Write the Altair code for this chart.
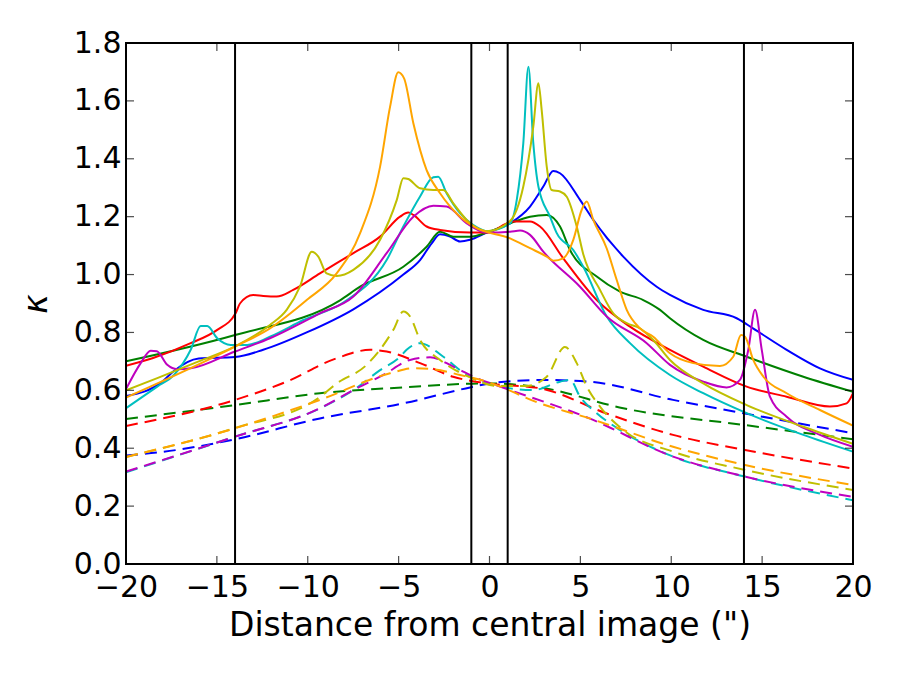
import altair as alt
import pandas as pd

# ---------------- data ----------------
blue_x = [-20, -18, -17.4, -16, -14, -12.45, -10.06, -7.49, -4.74, -3.82, -3.18, -2.72, -2.17, -1.62, -1.07, -0.15,
          1.13, 2.23, 2.96, 3.51, 3.88, 4.98, 5.71, 7.36, 9.2, 9.93, 11.76, 13.6, 14.5, 16.35, 18.18, 20]
blue_y = [0.58, 0.63, 0.665, 0.71, 0.715, 0.74, 0.80, 0.88, 1.0, 1.05, 1.108, 1.139, 1.131, 1.114, 1.12, 1.145,
          1.177, 1.235, 1.304, 1.358, 1.35, 1.258, 1.189, 1.062, 0.958, 0.93, 0.878, 0.849, 0.814, 0.74, 0.676, 0.636]

green_x = [-20, -14, -8.2, -7.12, -4.74, -3.46, -2.72, -1.99, -1.07, -0.15, 1.13, 2.23, 3.15, 3.88, 4.43, 5.9,
           7.18, 8.46, 9.38, 9.93, 11.76, 14.15, 17.27, 20]
green_y = [0.70, 0.791, 0.912, 0.958, 1.027, 1.096, 1.148, 1.131, 1.131, 1.145, 1.177, 1.2, 1.206, 1.166, 1.085, 0.993,
           0.941, 0.912, 0.878, 0.849, 0.774, 0.716, 0.647, 0.595]

red_x = [-20, -18.55, -16.44, -14.98, -13.97, -13.73, -13.0, -12.45, -11.71, -10.8, -9.33, -7.49, -6.02, -4.92, -4.47,
         -4.19, -3.46, -2.72, -1.07, -0.15, 1.31, 2.23, 2.78, 4.06, 5.9, 7.73, 9.93, 11.76, 14.15, 16.35, 18.73, 19.65, 20]
red_y = [0.685, 0.711, 0.763, 0.809, 0.866, 0.9, 0.929, 0.926, 0.924, 0.947, 1.004, 1.074, 1.131, 1.2, 1.214,
         1.206, 1.166, 1.154, 1.145, 1.145, 1.183, 1.183, 1.166, 1.056, 0.912, 0.82, 0.74, 0.682, 0.613, 0.578, 0.544, 0.555, 0.59]

cyan_x = [-20, -18.28, -17.36, -16.44, -15.89, -15.53, -14.98, -14.24, -13.33, -12.08, -10.24, -8.0, -5.66, -4.74,
          -3.82, -3.09, -2.82, -2.36, -1.62, -0.89, -0.15, 1.13, 1.5, 1.86, 2.14, 2.41, 2.69, 3.33, 3.7, 4.61, 5.16,
          6.45, 7.73, 9.93, 11.76, 14.15, 17.27, 20]
cyan_y = [0.538, 0.613, 0.653, 0.74, 0.822, 0.822, 0.78, 0.757, 0.757, 0.785, 0.843, 0.905, 1.05, 1.166,
          1.27, 1.336, 1.338, 1.281, 1.212, 1.171, 1.15, 1.177, 1.258, 1.454, 1.718, 1.454, 1.304, 1.2, 1.143, 1.085, 1.027,
          0.855, 0.763, 0.653, 0.59, 0.521, 0.446, 0.388]

magenta_x = [-20, -19.2, -18.64, -18.3, -17.73, -17.18, -16.44, -14, -12.08, -9.33, -7.49, -5.66, -4.19, -3.09, -2.36,
             -1.25, -0.15, 1.13, 1.68, 2.23, 2.96, 4.98, 6.45, 8.65, 9.93, 11.76, 13.05, 13.78, 14.24, 14.61, 14.98,
             15.43, 16.35, 18.18, 20]
magenta_y = [0.604, 0.693, 0.737, 0.735, 0.688, 0.673, 0.676, 0.734, 0.78, 0.866, 0.924, 1.074, 1.2, 1.238, 1.235,
             1.177, 1.145, 1.148, 1.152, 1.137, 1.079, 0.958, 0.855, 0.763, 0.688, 0.63, 0.61, 0.636, 0.74, 0.878, 0.74,
             0.578, 0.509, 0.446, 0.405]

yellow_x = [-20, -18.28, -16, -14, -12.08, -11.16, -10.43, -9.78, -9.42, -8.96, -8.41, -7.49, -6.02, -5.1, -4.74, -4.47,
            -3.82, -3.09, -2.54, -1.99, -1.07, -0.15, 1.13, 1.86, 2.41, 2.69, 2.87, 3.15, 3.42, 3.88, 4.25, 4.8, 5.16,
            6.08, 6.81, 7.55, 8.28, 9.01, 9.93, 11.76, 14.15, 17.27, 20]
yellow_y = [0.60, 0.642, 0.70, 0.752, 0.826, 0.878, 0.958, 1.079, 1.062, 1.004, 0.995, 1.016, 1.12, 1.258, 1.333, 1.33,
            1.298, 1.292, 1.292, 1.246, 1.177, 1.15, 1.185, 1.304, 1.511, 1.661, 1.569, 1.373, 1.292, 1.287, 1.269, 1.166, 1.07,
            0.947, 0.866, 0.832, 0.814, 0.774, 0.705, 0.624, 0.549, 0.474, 0.415]

orange_x = [-20, -14, -12.08, -10.06, -8.41, -7.12, -6.02, -5.47, -5.02, -4.7, -4.19, -3.46, -2.72, -1.62, -0.7,
            1.13, 2.23, 3.15, 3.51, 4.06, 4.61, 5.07, 5.35, 5.71, 6.45, 7.0, 7.55, 8.28, 9.01, 9.93, 11.21, 12.68,
            13.41, 13.84, 14.06, 14.51, 15.07, 16.35, 18.18, 20]
orange_y = [0.575, 0.751, 0.814, 0.912, 1.004, 1.143, 1.373, 1.58, 1.699, 1.678, 1.523, 1.361, 1.281, 1.2, 1.16,
            1.125, 1.091, 1.062, 1.048, 1.056, 1.12, 1.223, 1.252, 1.189, 1.09, 0.981, 0.878, 0.814, 0.785, 0.728, 0.694, 0.684,
            0.716, 0.791, 0.785, 0.705, 0.647, 0.59, 0.532, 0.478]

blue_d_x = [-20, -18.28, -14, -9.33, -4.74, -1.07, 0.03, 2.96, 5.5, 10.1, 14.06, 20]
blue_d_y = [0.375, 0.385, 0.431, 0.503, 0.555, 0.61, 0.624, 0.636, 0.63, 0.567, 0.52, 0.452]

green_d_x = [-20, -14, -9.33, -4.74, -0.15, 2.78, 7.36, 14.06, 20]
green_d_y = [0.501, 0.549, 0.59, 0.61, 0.624, 0.61, 0.538, 0.48, 0.431]

red_d_x = [-20, -14, -11.16, -8.4, -6.57, -5.66, -3.82, -2.0, -0.15, 2.78, 6.45, 10.1, 14.06, 20]
red_d_y = [0.477, 0.567, 0.63, 0.711, 0.74, 0.734, 0.694, 0.647, 0.624, 0.607, 0.52, 0.446, 0.394, 0.33]

cyan_d_x = [-20, -14, -9.33, -7.49, -6.02, -4.92, -4.56, -3.82, -2.54, -1.25, 0.58, 2.41, 3.88, 4.43, 4.98, 5.9,
            7.18, 10.1, 14.06, 20]
cyan_d_y = [0.317, 0.44, 0.538, 0.601, 0.67, 0.716, 0.74, 0.763, 0.716, 0.653, 0.613, 0.601, 0.63, 0.636, 0.578, 0.521,
            0.463, 0.371, 0.302, 0.22]

magenta_d_x = [-20, -14, -9.33, -7.49, -5.84, -4.37, -3.27, -1.99, -0.7, 0.58, 5.5, 10.1, 14.06, 20]
magenta_d_y = [0.319, 0.44, 0.538, 0.601, 0.653, 0.705, 0.714, 0.682, 0.642, 0.613, 0.503, 0.371, 0.302, 0.232]

yellow_d_x = [-20, -14, -9.33, -8.4, -6.76, -5.29, -4.74, -4.37, -3.82, -2.72, -1.25, 0.5, 2.0, 3.15, 4.15, 4.8,
              5.35, 6.08, 7.36, 10.1, 14.06, 20]
yellow_d_y = [0.37, 0.47, 0.577, 0.624, 0.688, 0.809, 0.872, 0.855, 0.774, 0.705, 0.65, 0.615, 0.615, 0.647, 0.75, 0.694,
              0.613, 0.544, 0.463, 0.388, 0.325, 0.256]

orange_d_x = [-20, -14, -9.33, -5.47, -4.19, -3.09, -1.62, -0.15, 2.78, 5.5, 10.1, 14.06, 20]
orange_d_y = [0.37, 0.469, 0.567, 0.659, 0.676, 0.673, 0.653, 0.63, 0.555, 0.503, 0.405, 0.342, 0.273]

vlines = [-14, -1, 1, 14]
x_ticks = [-20, -15, -10, -5, 0, 5, 10, 15, 20]
y_ticks = [0.0, 0.2, 0.4, 0.6, 0.8, 1.0, 1.2, 1.4, 1.6, 1.8]

series_names = ["blue", "green", "red", "cyan", "magenta", "yellow", "orange"]
series_colors = ["#0000ff", "#008000", "#ff0000", "#00bfbf", "#bf00bf", "#bfbf00", "#ffa500"]

solid = {"blue": (blue_x, blue_y), "green": (green_x, green_y), "red": (red_x, red_y),
         "cyan": (cyan_x, cyan_y), "magenta": (magenta_x, magenta_y), "yellow": (yellow_x, yellow_y),
         "orange": (orange_x, orange_y)}
dashed = {"blue": (blue_d_x, blue_d_y), "green": (green_d_x, green_d_y), "red": (red_d_x, red_d_y),
          "cyan": (cyan_d_x, cyan_d_y), "magenta": (magenta_d_x, magenta_d_y), "yellow": (yellow_d_x, yellow_d_y),
          "orange": (orange_d_x, orange_d_y)}


def to_df(d):
    rows = []
    for i, name in enumerate(series_names):
        xs, ys = d[name]
        for j, (xv, yv) in enumerate(zip(xs, ys)):
            rows.append({"x": xv, "y": yv, "series": name, "order": j})
    return pd.DataFrame(rows)


df_solid = to_df(solid)
df_dashed = to_df(dashed)

W, H = 727, 521

xscale = alt.Scale(domain=[-20, 20], nice=False, zero=False, padding=0)
yscale = alt.Scale(domain=[0, 1.8], nice=False, padding=0)
cscale = alt.Scale(domain=series_names, range=series_colors)

xaxis = alt.Axis(values=x_ticks, format="d", labelExpr="replace(datum.label, '-', '\u2212')",
                 labelFontSize=30, titleFontSize=33, labelFont="DejaVu Sans",
                 titleFont="DejaVu Sans", titleFontWeight="normal", ticks=False, domain=False, grid=False,
                 labelPadding=8, titlePadding=7, labelColor="black", titleColor="black", labelFlush=False)
yaxis = alt.Axis(values=y_ticks, format=".1f", labelFontSize=30, titleFontSize=33, labelFont="DejaVu Sans",
                 titleFont="DejaVu Sans", titleFontWeight="normal", titleFontStyle="italic", ticks=False,
                 domain=False, grid=False, labelPadding=5, titlePadding=20, labelColor="black", titleColor="black",
                 labelFlush=False)

base_solid = alt.Chart(df_solid).mark_line(strokeWidth=2, interpolate="monotone", clip=True).encode(
    x=alt.X("x:Q", scale=xscale, axis=xaxis, title='Distance from central image (")'),
    y=alt.Y("y:Q", scale=yscale, axis=yaxis, title="κ"),
    color=alt.Color("series:N", scale=cscale, legend=None),
    order="order:Q",
)

base_dashed = alt.Chart(df_dashed).mark_line(strokeWidth=2, strokeDash=[12, 7], interpolate="monotone",
                                             clip=True).encode(
    x=alt.X("x:Q", scale=xscale),
    y=alt.Y("y:Q", scale=yscale),
    color=alt.Color("series:N", scale=cscale, legend=None),
    order="order:Q",
)

vl = alt.Chart(pd.DataFrame({"v": vlines})).mark_rule(color="black", strokeWidth=2).encode(
    x=alt.X("v:Q", scale=xscale)
)

xt = pd.DataFrame({"v": x_ticks})
yt = pd.DataFrame({"v": y_ticks})
tick_bottom = alt.Chart(xt).mark_tick(color="black", size=8, thickness=1.2).encode(
    x=alt.X("v:Q", scale=xscale), y=alt.value(H - 4))
tick_top = alt.Chart(xt).mark_tick(color="black", size=8, thickness=1.2).encode(
    x=alt.X("v:Q", scale=xscale), y=alt.value(4))
tick_left = alt.Chart(yt).mark_tick(color="black", size=8, thickness=1.2, orient="horizontal").encode(
    y=alt.Y("v:Q", scale=yscale), x=alt.value(4))
tick_right = alt.Chart(yt).mark_tick(color="black", size=8, thickness=1.2, orient="horizontal").encode(
    y=alt.Y("v:Q", scale=yscale), x=alt.value(W - 4))

frame = alt.Chart(pd.DataFrame({"f": [0]})).mark_rect(filled=False, stroke="black", strokeWidth=2).encode(
    x=alt.value(0), x2=alt.value(W), y=alt.value(0), y2=alt.value(H))

chart = alt.layer(base_dashed, base_solid, vl, tick_bottom, tick_top, tick_left, tick_right, frame).properties(
    width=W, height=H,
    autosize=alt.AutoSizeParams(type="none"),
    padding={"left": 126, "top": 43, "right": 47, "bottom": 111},
).configure_view(stroke=None).configure(background="white")

chart.save("out.html", embed_options={"renderer": "svg", "actions": False})
